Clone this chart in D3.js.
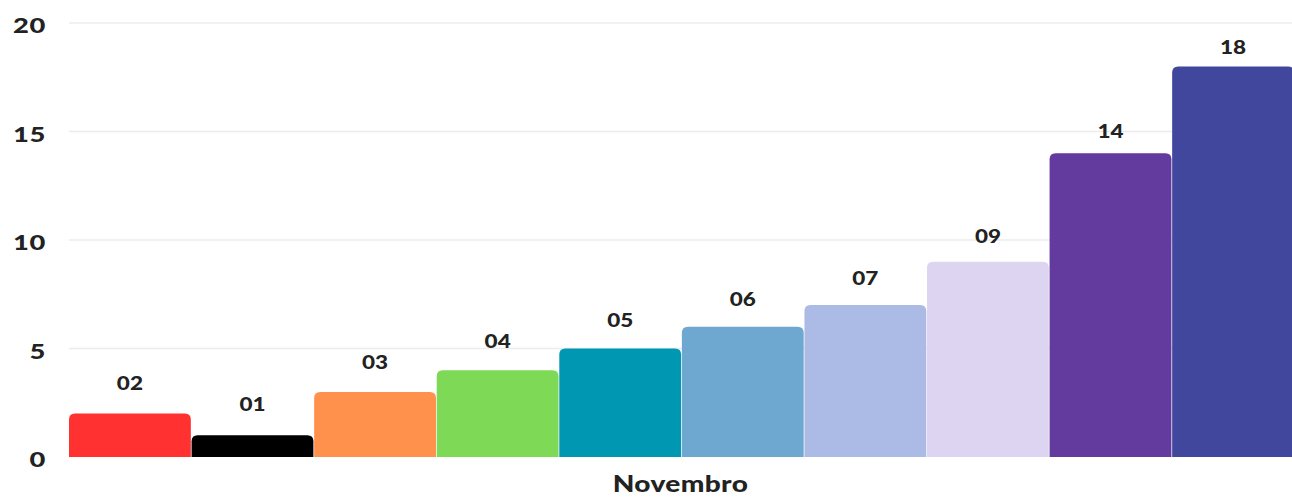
<!DOCTYPE html>
<html><head><meta charset="utf-8">
<script src="https://cdn.jsdelivr.net/npm/d3@7"></script>
<style>html,body{margin:0;padding:0;background:#fff;}svg{display:block;}</style>
</head><body><svg id="c" width="1292" height="497"></svg>
<script>
const categories = ["a","b","c","d","e","f","g","h","i","j"];
const values = [2,1,3,4,5,6,7,9,14,18];
const valueLabels = ["02","01","03","04","05","06","07","09","14","18"];
const colors = ["#ff3131","#000000","#ff914d","#7ed957","#0097b2","#6ea8d1","#abbbe5","#dcd4f1","#633a9d","#40479d"];
const yTicks = [0,5,10,15,20];
const xTitle = "Novembro";

const svg = d3.select("#c");
const font = "Lato, 'DejaVu Sans', sans-serif";
const x = d3.scaleBand().domain(categories).range([69, 1294]).paddingInner(0.006).paddingOuter(0);
const y = d3.scaleLinear().domain([0,20]).range([457, 23]);
// label placement (maps bar top to label center), styling only
const labelY = d3.scaleLinear().domain([y(18), y(2)]).range([y(18) - 19, y(2) - 30]);

// gridlines
svg.append("g").selectAll("line").data(yTicks.filter(d=>d>0)).join("line")
  .attr("x1", 69).attr("x2", 1292)
  .attr("y1", d=>y(d)).attr("y2", d=>y(d))
  .attr("stroke", "#ececec").attr("stroke-width", 1.5);

// y axis labels
const yAxis = d3.axisLeft(y).tickValues(yTicks).tickSize(0).tickPadding(0);
const ga = svg.append("g").attr("transform","translate(46,2)").call(yAxis);
ga.select(".domain").remove();
ga.selectAll("text").attr("font-family", font).attr("font-weight", 900)
  .attr("font-size", 21).attr("fill", "#222").attr("letter-spacing", 0.5)
  .attr("dy","0.36em").attr("transform","scale(1.3,1)");

// bars with rounded top corners
const r = 6;
function barPath(d, i){
  const x0 = x(categories[i]), w = x.bandwidth(), y0 = y(d), y1 = y(0);
  const rr = Math.min(r, (y1 - y0));
  return `M${x0},${y1} L${x0},${y0+rr} Q${x0},${y0} ${x0+rr},${y0} L${x0+w-rr},${y0} Q${x0+w},${y0} ${x0+w},${y0+rr} L${x0+w},${y1} Z`;
}
svg.append("g").selectAll("path").data(values).join("path")
  .attr("d", (d,i)=>barPath(d,i))
  .attr("fill", (d,i)=>colors[i]);

// value labels
svg.append("g").selectAll("g").data(values).join("g")
  .attr("transform", (d,i)=>`translate(${x(categories[i]) + x.bandwidth()/2},${labelY(y(d))})`)
  .append("text")
  .attr("text-anchor","middle").attr("dy","0.36em")
  .attr("transform","scale(1.25,1)")
  .attr("font-family", font).attr("font-weight", 900).attr("font-size", 18)
  .attr("fill", "#222")
  .text((d,i)=>valueLabels[i]);

// x title
svg.append("g").attr("transform", `translate(${(69+1292)/2},492)`)
  .append("text").attr("text-anchor","middle").attr("transform","scale(1.22,1)")
  .attr("font-family", font).attr("font-weight", 900)
  .attr("font-size", 23).attr("fill","#222").attr("letter-spacing", 0.3).text(xTitle);
</script></body></html>
